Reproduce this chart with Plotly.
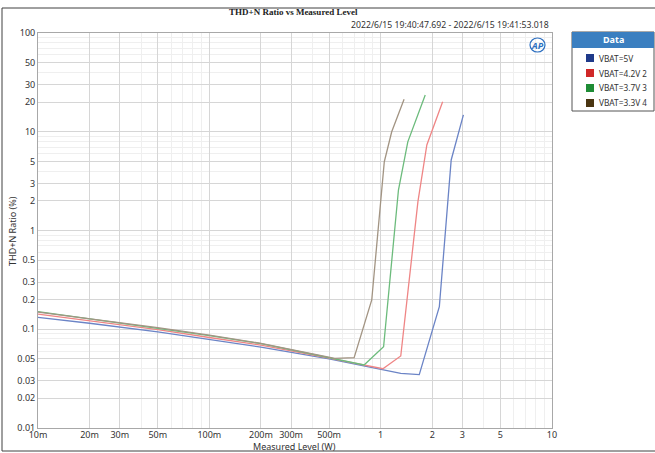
import plotly.graph_objects as go

# ---------------- data ----------------
series_names = ["VBAT=5V", "VBAT=4.2V", "VBAT=3.7V", "VBAT=3.3V"]
series_suffix = ["", "2", "3", "4"]

x_5v = [0.01, 0.02, 0.05, 0.1, 0.2, 0.5, 1.0, 1.31, 1.68, 2.2, 2.58, 3.04]
y_5v = [0.132, 0.115, 0.094, 0.079, 0.066, 0.050, 0.0393, 0.0358, 0.0347, 0.169, 5.18, 14.8]

x_42v = [0.01, 0.02, 0.05, 0.1, 0.2, 0.5, 1.03, 1.31, 1.65, 1.86, 2.30]
y_42v = [0.142, 0.122, 0.099, 0.0825, 0.069, 0.051, 0.0398, 0.0536, 1.96, 7.35, 20.1]

x_37v = [0.01, 0.02, 0.05, 0.1, 0.2, 0.5, 0.8, 1.04, 1.27, 1.44, 1.82]
y_37v = [0.151, 0.128, 0.103, 0.086, 0.0716, 0.052, 0.0435, 0.0665, 2.57, 7.9, 23.6]

x_33v = [0.01, 0.02, 0.05, 0.1, 0.2, 0.54, 0.70, 0.887, 1.05, 1.16, 1.37]
y_33v = [0.149, 0.128, 0.104, 0.087, 0.072, 0.0508, 0.0515, 0.198, 4.97, 10.0, 21.3]

x_tickvals = [0.01, 0.02, 0.03, 0.05, 0.1, 0.2, 0.3, 0.5, 1, 2, 3, 5, 10]
x_ticktext = ["10m", "20m", "30m", "50m", "100m", "200m", "300m", "500m", "1", "2", "3", "5", "10"]
y_tickvals = [0.01, 0.02, 0.03, 0.05, 0.1, 0.2, 0.3, 0.5, 1, 2, 3, 5, 10, 20, 30, 50, 100]
y_ticktext = ["0.01", "0.02", "0.03", "0.05", "0.1", "0.2", "0.3", "0.5", "1", "2", "3", "5",
              "10", "20", "30", "50", "100"]

line_colors = ["#6b84c6", "#ef8585", "#6cbb7c", "#a29483"]
legend_colors = ["#1f3a8a", "#d02828", "#1e8c35", "#4a3512"]

title_text = "THD+N Ratio vs Measured Level"
time_text = "2022/6/15 19:40:47.692 - 2022/6/15 19:41:53.018"
x_title = "Measured Level (W)"
y_title = "THD+N Ratio (%)"

# ---------------- figure ----------------
W, H = 655, 453
L, R, T, B = 38, 103, 33, 25
pw, ph = W - L - R, H - T - B


def px(x):
    return (x - L) / pw


def py(y):
    return (H - B - y) / ph


minor_vals = []
for dec in [0.01, 0.1, 1, 10]:
    for k in range(1, 10):
        v = dec * k
        if v <= 100.0001:
            minor_vals.append(round(v, 6))

fig = go.Figure()
xs = [x_5v, x_42v, x_37v, x_33v]
ys = [y_5v, y_42v, y_37v, y_33v]
for name, xv, yv, c in zip(series_names, xs, ys, line_colors):
    fig.add_trace(go.Scatter(x=xv, y=yv, mode="lines", name=name,
                             line=dict(color=c, width=1.3), showlegend=False))

font_family = "Noto Sans, Open Sans, sans-serif"
axis_common = dict(
    type="log",
    showgrid=True,
    gridcolor="#d6d6d6",
    gridwidth=1,
    showline=True,
    linecolor="#a8a8a8",
    linewidth=1,
    mirror=True,
    ticks="",
    zeroline=False,
    tickfont=dict(family=font_family, size=9, color="#333333"),
)

fig.update_xaxes(**axis_common, range=[-2, 1], tickmode="array",
                 tickvals=x_tickvals, ticktext=x_ticktext, ticklabelstandoff=-2,
                 minor=dict(tickmode="array", tickvals=minor_vals, showgrid=True,
                            gridcolor="#efefef", gridwidth=1, ticks=""))
fig.update_yaxes(**axis_common, range=[-2, 2], tickmode="array",
                 tickvals=y_tickvals, ticktext=y_ticktext,
                 minor=dict(tickmode="array", tickvals=minor_vals, showgrid=True,
                            gridcolor="#efefef", gridwidth=1, ticks=""))

shapes = []
annotations = []

# outer border
shapes.append(dict(type="rect", xref="paper", yref="paper",
                   x0=px(2), x1=px(662), y0=py(451), y1=py(8),
                   line=dict(color="#404040", width=1), fillcolor="rgba(0,0,0,0)", layer="below"))

# title & timestamp
annotations.append(dict(xref="paper", yref="paper", x=px(293), y=py(12),
                        text="<b>" + title_text + "</b>", showarrow=False,
                        xanchor="center", yanchor="middle",
                        font=dict(family="Liberation Serif, DejaVu Serif, serif", size=9, color="#222222")))
annotations.append(dict(xref="paper", yref="paper", x=px(551), y=py(25),
                        text=time_text, showarrow=False, xanchor="right", yanchor="middle",
                        font=dict(family=font_family, size=8.7, color="#333333")))

# axis titles
annotations.append(dict(xref="paper", yref="paper", x=px(294), y=py(446.5),
                        text=x_title, showarrow=False, xanchor="center", yanchor="middle",
                        font=dict(family=font_family, size=9, color="#333333")))
annotations.append(dict(xref="paper", yref="paper", x=px(12), y=py(231),
                        text=y_title, showarrow=False, xanchor="center", yanchor="middle",
                        textangle=-90,
                        font=dict(family=font_family, size=9, color="#333333")))

# AP logo
shapes.append(dict(type="circle", xref="paper", yref="paper",
                   x0=px(530), x1=px(545), y0=py(52), y1=py(38),
                   line=dict(color="#2d6fc0", width=1.2), fillcolor="rgba(0,0,0,0)"))
annotations.append(dict(xref="paper", yref="paper", x=px(537), y=py(45),
                        text="<b><i>AP</i></b>", showarrow=False, xanchor="center", yanchor="middle",
                        font=dict(family=font_family, size=9, color="#2d6fc0")))

# legend box
bx0, bx1, by0, by1 = 572, 654, 32, 111
shapes.append(dict(type="rect", xref="paper", yref="paper",
                   x0=px(bx0), x1=px(bx1), y0=py(by1), y1=py(by0),
                   line=dict(color="#555555", width=1), fillcolor="white"))
shapes.append(dict(type="rect", xref="paper", yref="paper",
                   x0=px(bx0), x1=px(bx1), y0=py(48), y1=py(by0),
                   line=dict(width=0), fillcolor="#3b7fc0"))
annotations.append(dict(xref="paper", yref="paper", x=px((bx0 + bx1) / 2), y=py(40),
                        text="<b>Data</b>", showarrow=False, xanchor="center", yanchor="middle",
                        font=dict(family=font_family, size=9, color="white")))
row_y = [58, 73, 88, 103]
for name, suf, c, ry in zip(series_names, series_suffix, legend_colors, row_y):
    shapes.append(dict(type="rect", xref="paper", yref="paper",
                       x0=px(586), x1=px(594), y0=py(ry + 4), y1=py(ry - 4),
                       line=dict(width=0), fillcolor=c))
    txt = name + (" <span style='font-size:8px'>" + suf + "</span>" if suf else "")
    annotations.append(dict(xref="paper", yref="paper", x=px(597), y=py(ry),
                            text=txt, showarrow=False, xanchor="left", yanchor="middle",
                            font=dict(family=font_family, size=8.3, color="#333333")))

fig.update_layout(
    width=W, height=H,
    margin=dict(l=L, r=R, t=T, b=B, autoexpand=False),
    paper_bgcolor="white", plot_bgcolor="white",
    shapes=shapes, annotations=annotations,
    showlegend=False,
)

fig.write_html("out.html", config={"displayModeBar": False},
               post_script="document.body.style.margin='0';document.body.style.overflow='hidden';")
